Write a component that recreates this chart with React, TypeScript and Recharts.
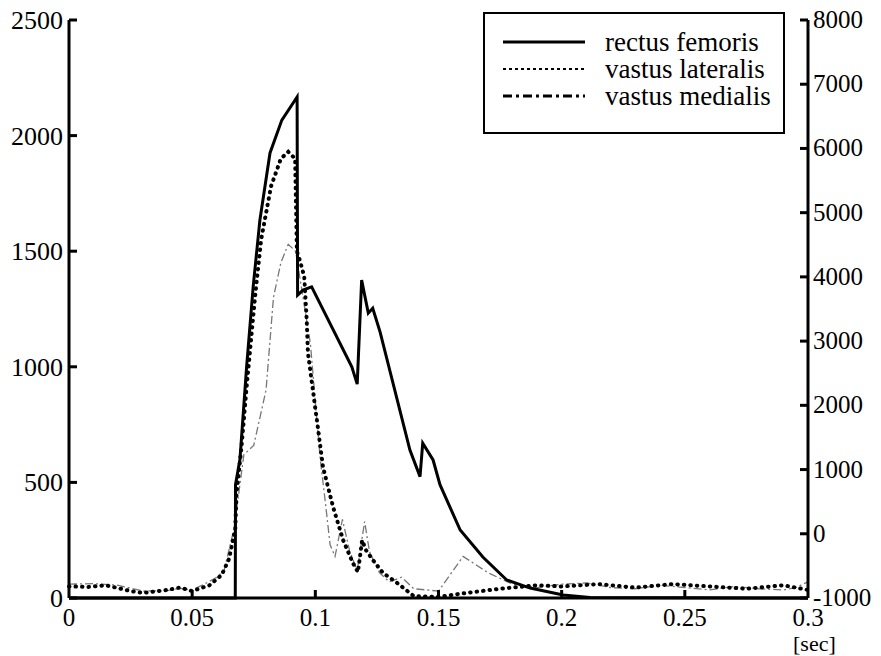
import { LineChart, Line, XAxis, YAxis } from 'recharts';

// time axis [sec] and EMG values
const rectusT = [0, 0.0675, 0.0676, 0.0694, 0.0721, 0.0748, 0.0775, 0.0816, 0.0864, 0.0926, 0.0928, 0.095, 0.0985, 0.1148, 0.117, 0.1188, 0.1215, 0.1233, 0.1263, 0.1384, 0.1425, 0.1436, 0.1478, 0.1506, 0.1588, 0.168, 0.1777, 0.1872, 0.2006, 0.2115, 0.3];
const rectusV = [0, 0, 490, 600, 1000, 1350, 1635, 1925, 2067, 2167, 1310, 1332, 1346, 1000, 925, 1375, 1232, 1253, 1150, 640, 525, 670, 597, 490, 294, 177, 78, 43, 13, 2, 0];

const lateralisT = [0, 0.008, 0.015, 0.025, 0.03, 0.04, 0.045, 0.05, 0.057, 0.062, 0.065, 0.0675, 0.068, 0.07, 0.072, 0.0755, 0.078, 0.082, 0.086, 0.089, 0.0918, 0.0925, 0.094, 0.0955, 0.0965, 0.097, 0.099, 0.101, 0.1031, 0.1072, 0.1113, 0.1153, 0.1173, 0.119, 0.1205, 0.1234, 0.1275, 0.1332, 0.14, 0.15, 0.16, 0.175, 0.19, 0.2, 0.215, 0.23, 0.245, 0.26, 0.275, 0.29, 0.3];
const lateralisV = [50, 48, 55, 30, 22, 35, 45, 30, 55, 100, 170, 300, 450, 650, 900, 1300, 1550, 1780, 1900, 1930, 1900, 1500, 1450, 1390, 1202, 1060, 900, 740, 567, 394, 250, 150, 112, 250, 208, 164, 108, 65, 8, 5, 20, 40, 55, 50, 60, 45, 60, 50, 40, 55, 35];

const medialisT = [0, 0.01, 0.02, 0.03, 0.04, 0.045, 0.05, 0.055, 0.06, 0.063, 0.067, 0.071, 0.075, 0.08, 0.083, 0.086, 0.089, 0.092, 0.095, 0.098, 0.1, 0.102, 0.104, 0.106, 0.108, 0.111, 0.114, 0.117, 0.12, 0.122, 0.126, 0.13, 0.135, 0.14, 0.15, 0.16, 0.17, 0.18, 0.19, 0.2, 0.21, 0.22, 0.23, 0.24, 0.25, 0.26, 0.27, 0.28, 0.29, 0.295, 0.3];
const medialisV = [60, 62, 55, 30, 32, 42, 35, 60, 90, 120, 300, 620, 660, 900, 1300, 1450, 1530, 1500, 1300, 1100, 850, 600, 420, 230, 180, 340, 200, 120, 330, 200, 110, 70, 90, 40, 30, 180, 110, 60, 45, 60, 65, 45, 40, 55, 45, 35, 50, 40, 35, 45, 70];

const xTicks = [0, 0.05, 0.1, 0.15, 0.2, 0.25, 0.3];
const leftTicks = [0, 500, 1000, 1500, 2000, 2500];
const rightTicks = [-1000, 0, 1000, 2000, 3000, 4000, 5000, 6000, 7000, 8000];

const seriesNames = ['rectus femoris', 'vastus lateralis', 'vastus medialis'];

const FONT = "'Liberation Serif', Tinos, Times, 'DejaVu Serif', serif";

function buildRows() {
  const map = new Map<number, any>();
  const add = (ts: number[], vs: number[], key: string) => {
    ts.forEach((t, i) => {
      const row = map.get(t) || { t };
      row[key] = vs[i];
      map.set(t, row);
    });
  };
  add(rectusT, rectusV, 'rf');
  add(lateralisT, lateralisV, 'vl');
  add(medialisT, medialisV, 'vm');
  return Array.from(map.values()).sort((a, b) => a.t - b.t);
}

const rows = buildRows();

const XTick = (props: any) => {
  const { x, y, payload } = props;
  return (
    <g>
      {payload.value > 0 && payload.value < 0.3 && (
        <line x1={x} x2={x} y1={y} y2={y - 8} stroke="#000" strokeWidth={3} />
      )}
      <text x={x} y={y + 28} textAnchor="middle" style={{ fontFamily: FONT }} fontSize={25} fill="#000">
        {payload.value}
      </text>
    </g>
  );
};

const LeftTick = (props: any) => {
  const { x, y, payload } = props;
  return (
    <g>
      <line x1={x} x2={x + 8} y1={y} y2={y} stroke="#000" strokeWidth={3} />
      <text x={x - 6} y={y + 9} textAnchor="end" style={{ fontFamily: FONT }} fontSize={26} fill="#000">
        {payload.value}
      </text>
    </g>
  );
};

const RightTick = (props: any) => {
  const { x, y, payload } = props;
  return (
    <g>
      <line x1={x - 8} x2={x} y1={y} y2={y} stroke="#000" strokeWidth={3} />
      <text x={x + 5} y={y + 8} textAnchor="start" style={{ fontFamily: FONT }} fontSize={25} fill="#000">
        {payload.value}
      </text>
    </g>
  );
};

const LegendBox = () => (
  <svg width={302} height={122} style={{ position: 'absolute', left: 483, top: 12 }}>
    <rect x={1} y={1} width={300} height={120} fill="#fff" stroke="#000" strokeWidth={2} />
    <line x1={20} x2={102} y1={30} y2={30} stroke="#000" strokeWidth={3} />
    <line x1={20} x2={102} y1={57} y2={57} stroke="#000" strokeWidth={2} strokeDasharray="3 3" />
    <line x1={20} x2={102} y1={84} y2={84} stroke="#000" strokeWidth={3} strokeDasharray="9 4 3 4" />
    {seriesNames.map((n, i) => (
      <text key={n} x={122} y={39 + i * 27} style={{ fontFamily: FONT }} fontSize={27} fill="#000">
        {n}
      </text>
    ))}
  </svg>
);

export default function App() {
  return (
    <div style={{ position: 'absolute', left: 0, top: 0, width: 881, height: 656, background: '#fff' }}>
      <LineChart width={881} height={656} data={rows} margin={{ top: 20, right: 0, bottom: 0, left: 0 }}>
        <XAxis
          dataKey="t"
          type="number"
          domain={[0, 0.3]}
          ticks={xTicks}
          height={58}
          tickSize={0}
          tickMargin={0}
          tick={<XTick />}
          axisLine={{ stroke: '#000', strokeWidth: 3 }}
          interval={0}
        />
        <YAxis
          yAxisId="left"
          type="number"
          domain={[0, 2500]}
          ticks={leftTicks}
          width={69}
          tickSize={0}
          tickMargin={0}
          tick={<LeftTick />}
          axisLine={{ stroke: '#000', strokeWidth: 3 }}
          interval={0}
        />
        <YAxis
          yAxisId="right"
          orientation="right"
          type="number"
          domain={[-1000, 8000]}
          allowDataOverflow
          ticks={rightTicks}
          width={73}
          tickSize={0}
          tickMargin={0}
          tick={<RightTick />}
          axisLine={{ stroke: '#000', strokeWidth: 3 }}
          interval={0}
        />
        <Line
          yAxisId="left"
          dataKey="vm"
          name="vastus medialis"
          type="linear"
          stroke="#777"
          strokeWidth={1.3}
          strokeDasharray="8 3 2 3"
          dot={false}
          connectNulls
          isAnimationActive={false}
        />
        <Line
          yAxisId="left"
          dataKey="vl"
          name="vastus lateralis"
          type="linear"
          stroke="#000"
          strokeWidth={4}
          strokeLinecap="round"
          strokeDasharray="0.5 6"
          dot={false}
          connectNulls
          isAnimationActive={false}
        />
        <Line
          yAxisId="left"
          dataKey="rf"
          name="rectus femoris"
          type="linear"
          stroke="#000"
          strokeWidth={3}
          dot={false}
          connectNulls
          isAnimationActive={false}
        />
      </LineChart>
      <LegendBox />
      <div
        style={{
          position: 'absolute',
          left: 793,
          top: 633,
          fontFamily: FONT,
          fontSize: 22,
          lineHeight: '21px',
          color: '#000',
        }}
      >
        [sec]
      </div>
    </div>
  );
}
